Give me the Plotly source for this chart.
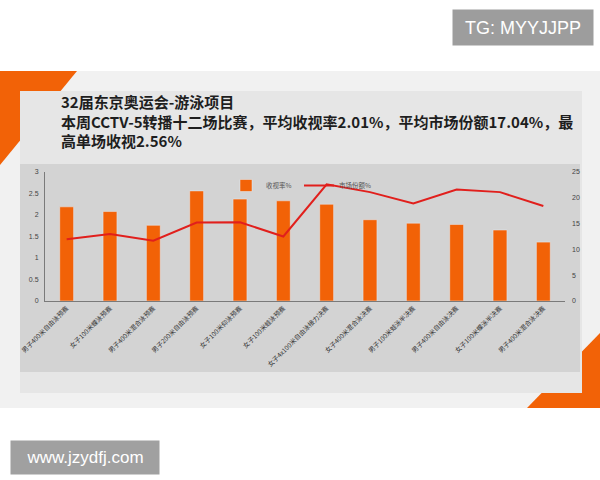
import plotly.graph_objects as go

categories = [
    "男子400米自由泳预赛", "女子100米蝶泳预赛", "男子400米混合泳预赛",
    "男子200米自由泳预赛", "女子100米仰泳预赛", "女子100米蛙泳预赛",
    "女子4x100米自由泳接力决赛", "女子400米混合泳决赛", "男子100米蛙泳半决赛",
    "男子400米自由泳决赛", "女子100米蝶泳半决赛", "男子400米混合泳决赛",
]
rating = [2.19, 2.08, 1.76, 2.56, 2.37, 2.33, 2.25, 1.89, 1.81, 1.78, 1.65, 1.37]
share = [11.96, 12.98, 11.7, 15.2, 15.25, 12.5, 22.6, 21.1, 18.9, 21.6, 21.1, 18.4]
title_lines = [
    "32届东京奥运会-游泳项目",
    "本周CCTV-5转播十二场比赛，平均收视率2.01%，平均市场份额17.04%，最",
    "高单场收视2.56%",
]

W, H = 600, 480
def px(x): return x / W
def py(y): return 1 - y / H

CJK = "Noto Sans CJK SC"

fig = go.Figure()
fig.add_trace(go.Bar(x=categories, y=rating, name="收视率%", marker_color="#f26207",
                     width=0.32, yaxis="y"))
fig.add_trace(go.Scatter(x=categories, y=share, name="市场份额%", mode="lines",
                         line=dict(color="#e11f1c", width=2), yaxis="y2"))

shapes = []
# slide background
shapes.append(dict(type="rect", xref="paper", yref="paper", x0=px(0), x1=px(600), y0=py(408), y1=py(71),
                   fillcolor="#f1f1f1", line_width=0, layer="below"))
# orange corners
shapes.append(dict(type="path", xref="paper", yref="paper",
                   path=f"M {px(0)} {py(71)} L {px(77)} {py(71)} L {px(0)} {py(165)} Z",
                   fillcolor="#f26207", line_width=0, layer="below"))
shapes.append(dict(type="path", xref="paper", yref="paper",
                   path=f"M {px(600)} {py(333)} L {px(600)} {py(408)} L {px(527)} {py(408)} Z",
                   fillcolor="#f26207", line_width=0, layer="below"))
# inner panel
shapes.append(dict(type="rect", xref="paper", yref="paper", x0=px(20), x1=px(582), y0=py(393), y1=py(91),
                   fillcolor="#e6e6e6", line_width=0, layer="below"))
# chart area
shapes.append(dict(type="rect", xref="paper", yref="paper", x0=px(20), x1=px(580), y0=py(372), y1=py(164),
                   fillcolor="#d3d3d3", line_width=0, layer="below"))

annotations = []
annotations.append(dict(text="<br>".join(f"<b>{t}</b>" for t in title_lines), xref="paper", yref="paper",
                        x=px(59), y=py(89), xanchor="left", yanchor="top", align="left", showarrow=False,
                        font=dict(family=CJK, size=15, color="#1e1e1e")))
annotations.append(dict(text="TG: MYYJJPP", xref="paper", yref="paper", x=px(452), y=py(9),
                        xanchor="left", yanchor="top", showarrow=False, bgcolor="#9d9d9d",
                        width=138, height=33, borderpad=1,
                        font=dict(family="Liberation Sans", size=18, color="white")))
annotations.append(dict(text="www.jzydfj.com", xref="paper", yref="paper", x=px(10), y=py(440),
                        xanchor="left", yanchor="top", showarrow=False, bgcolor="#a0a0a0",
                        width=146, height=31, borderpad=1,
                        font=dict(family="Liberation Sans", size=17, color="white")))

fig.update_layout(
    width=W, height=H,
    margin=dict(l=0, r=0, t=0, b=0),
    paper_bgcolor="white", plot_bgcolor="rgba(0,0,0,0)",
    shapes=shapes, annotations=annotations,
    showlegend=True,
    legend=dict(orientation="h", x=px(226), y=py(171), xanchor="left", yanchor="top",
                bgcolor="rgba(0,0,0,0)", font=dict(family=CJK, size=6.5, color="#555"),
                itemwidth=30, tracegroupgap=0, entrywidth=28, entrywidthmode="pixels"),
    xaxis=dict(domain=[px(45), px(565)], range=[-0.5, 11.5], type="category",
               showline=True, linecolor="#7a7a7a", linewidth=1, ticks="", showgrid=False,
               tickangle=-45, tickfont=dict(family=CJK, size=6.5, color="#333"), automargin=False),
    yaxis=dict(domain=[py(301), py(172)], range=[0, 3], dtick=0.5, showgrid=False,
               showline=True, linecolor="#7a7a7a", linewidth=1, ticks="", zeroline=False,
               tickfont=dict(family="Liberation Sans", size=7, color="#444"), automargin=False,
               ticklabelstandoff=4),
    yaxis2=dict(domain=[py(301), py(172)], range=[0, 25], dtick=5, overlaying="y", side="right",
                showgrid=False, showline=False, ticks="", zeroline=False,
                tickfont=dict(family="Liberation Sans", size=7, color="#444"), automargin=False,
                ticklabelstandoff=6),
    bargap=0.6,
)

fig.write_html("out.html", config={"displayModeBar": False},
               post_script="document.body.style.margin='0';document.body.style.overflow='hidden';")
